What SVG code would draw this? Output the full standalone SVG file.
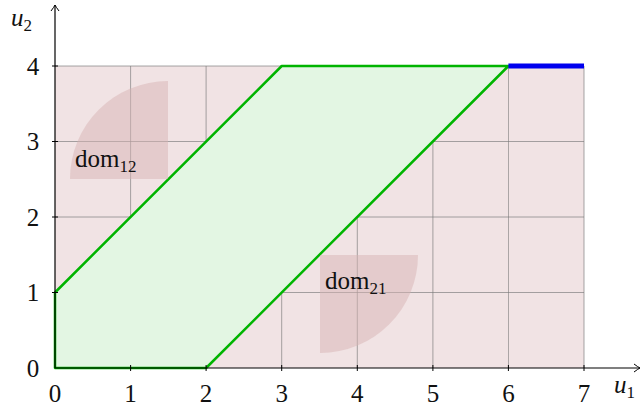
<svg xmlns="http://www.w3.org/2000/svg" width="644" height="407" viewBox="0 0 644 407" font-family="Liberation Serif, DejaVu Serif, serif">
<defs>
<marker id="arr" markerWidth="10" markerHeight="10" refX="7" refY="5" orient="auto" markerUnits="userSpaceOnUse">
<path d="M1,1 Q5,4 7,5 Q5,6 1,9" fill="none" stroke="#000" stroke-width="1"/>
</marker>
</defs>
<style>
.t{font-size:25px;fill:#111}
.ts{font-size:17px;fill:#111}
.g{stroke:#777;stroke-width:0.8;opacity:0.8}
.dom{fill:#d8b4b4;opacity:0.5}
</style>
<rect id="region" x="55" y="66" width="529" height="302" fill="#f1e3e4"/>
<g id="grid">
<line class="g" x1="130.6" y1="66" x2="130.6" y2="368"/>
<line class="g" x1="206.1" y1="66" x2="206.1" y2="368"/>
<line class="g" x1="281.7" y1="66" x2="281.7" y2="368"/>
<line class="g" x1="357.3" y1="66" x2="357.3" y2="368"/>
<line class="g" x1="432.9" y1="66" x2="432.9" y2="368"/>
<line class="g" x1="508.4" y1="66" x2="508.4" y2="368"/>
<line class="g" x1="584" y1="66" x2="584" y2="368"/>
<line class="g" x1="55" y1="66" x2="584" y2="66"/>
<line class="g" x1="55" y1="141.5" x2="584" y2="141.5"/>
<line class="g" x1="55" y1="217" x2="584" y2="217"/>
<line class="g" x1="55" y1="292.5" x2="584" y2="292.5"/>
</g>
<g id="feasible">
<polygon points="55,368 206.1,368 508.4,66 281.7,66 55,292.5" fill="#e3f6e3" stroke="#00b400" stroke-width="2.5" stroke-linejoin="round"/>
</g>
<g id="dom12">
<path class="dom" d="M168,179 L168,81 A98,98 0 0 0 70,179 Z"/>
<text class="t" x="75" y="167" font-family="Liberation Serif">dom<tspan class="ts" dy="5">12</tspan></text>
</g>
<g id="dom21">
<path class="dom" d="M320,255 L418,255 A98,98 0 0 1 320,353 Z"/>
<text class="t" x="325" y="289" font-family="Liberation Serif">dom<tspan class="ts" dy="5">21</tspan></text>
</g>
<g id="pareto">
<line x1="508.4" y1="66" x2="584" y2="66" stroke="#0000ee" stroke-width="5"/>
</g>
<g id="axes">
<line x1="55" y1="368" x2="640" y2="368" stroke="#000" stroke-width="1.2" marker-end="url(#arr)"/>
<line x1="55" y1="368" x2="55" y2="5" stroke="#000" stroke-width="1.2" marker-end="url(#arr)"/>
<g stroke="#000" stroke-width="1">
<line x1="130.6" y1="365" x2="130.6" y2="371"/>
<line x1="206.1" y1="365" x2="206.1" y2="371"/>
<line x1="281.7" y1="365" x2="281.7" y2="371"/>
<line x1="357.3" y1="365" x2="357.3" y2="371"/>
<line x1="432.9" y1="365" x2="432.9" y2="371"/>
<line x1="508.4" y1="365" x2="508.4" y2="371"/>
<line x1="584" y1="365" x2="584" y2="371"/>
<line x1="52" y1="292.5" x2="58" y2="292.5"/>
<line x1="52" y1="217" x2="58" y2="217"/>
<line x1="52" y1="141.5" x2="58" y2="141.5"/>
<line x1="52" y1="66" x2="58" y2="66"/>
</g>
</g>
<g id="labels" class="t" text-anchor="middle" font-family="Liberation Serif">
<text x="55" y="402">0</text>
<text x="130.6" y="402">1</text>
<text x="206.1" y="402">2</text>
<text x="281.7" y="402">3</text>
<text x="357.3" y="402">4</text>
<text x="432.9" y="402">5</text>
<text x="508.4" y="402">6</text>
<text x="584" y="402">7</text>
<text x="33" y="377">0</text>
<text x="33" y="301">1</text>
<text x="33" y="226">2</text>
<text x="33" y="150">3</text>
<text x="33" y="75">4</text>
</g>
<text class="t" x="614" y="393" font-style="italic" font-family="Liberation Serif">u<tspan class="ts" font-style="normal" dy="5">1</tspan></text>
<text class="t" x="11" y="26" font-style="italic" font-family="Liberation Serif">u<tspan class="ts" font-style="normal" dy="5">2</tspan></text>
</svg>
